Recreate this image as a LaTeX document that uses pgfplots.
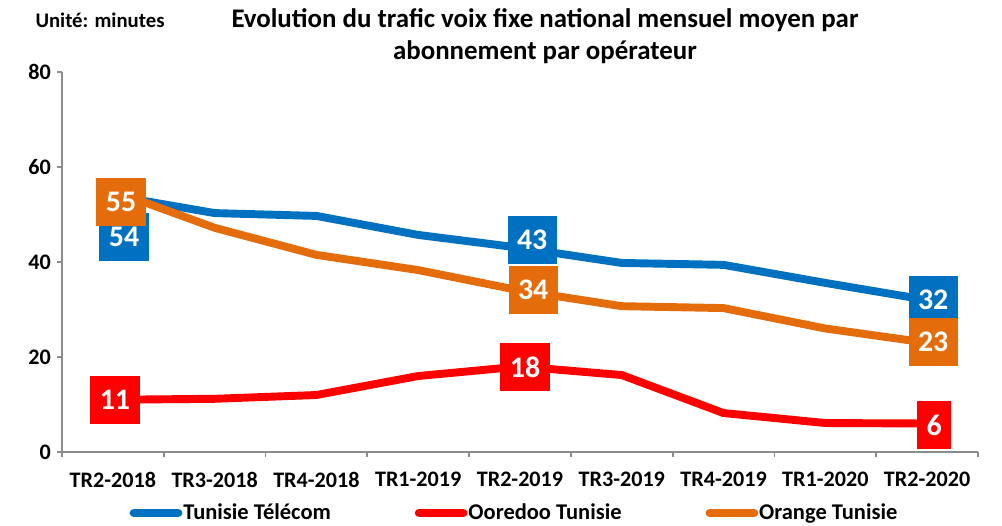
\documentclass[border=0pt]{standalone}
\usepackage{pgfplots}
\pgfplotsset{compat=1.18}
\usepackage{fontspec}
\setmainfont{Carlito}
\definecolor{ttblue}{RGB}{0,112,192}
\definecolor{oored}{RGB}{255,0,0}
\definecolor{orgorange}{RGB}{228,108,10}
\definecolor{axgray}{RGB}{140,140,140}

\tikzset{lbl/.style={fill=#1, text=white, font=\fontsize{17}{17}\selectfont\bfseries,
  minimum height=0.96cm, inner xsep=0.19cm, inner ysep=0pt}}

\begin{document}
\begin{tikzpicture}
\path[use as bounding box] (-1.24cm,-1.46cm) rectangle (18.8cm,9.04cm);

\begin{axis}[
    scale only axis,
    width=18.32cm, height=7.6cm,
    xmin=-0.5, xmax=8.5,
    ymin=0, ymax=80,
    axis x line=bottom, axis y line=left,
    axis line style={-, draw=axgray, line width=1pt},
    tick style={draw=axgray, line width=1pt},
    tick align=outside,
    major tick length=0.1cm,
    xtick={-0.5,0.5,1.5,2.5,3.5,4.5,5.5,6.5,7.5,8.5},
    x tick label as interval,
    xticklabels={TR2-2018,TR3-2018,TR4-2018,TR1-2019,TR2-2019,TR3-2019,TR4-2019,TR1-2020,TR2-2020},
    ytick={0,20,40,60,80},
    /pgf/number format/assume math mode=true,
    ticklabel style={font=\fontsize{12.6}{14}\selectfont\bfseries},
    xticklabel style={yshift=-0.18cm},
    clip=false,
    legend style={draw=none, fill=none, at={(0.4934,-0.1605)}, anchor=center,
      legend columns=3, font=\fontsize{12.8}{13}\selectfont\bfseries,
      /tikz/every even column/.append style={column sep=1.66cm},
      nodes={inner sep=0.5pt}},
    legend image code/.code={\draw[line width=5pt, line cap=round] (0.1cm,0cm) -- (0.98cm,0cm);},
    every axis plot/.append style={line width=4.5pt, mark=none},
]

\addplot[color=ttblue] coordinates {
  (0,54) (1,50.3) (2,49.7) (3,45.7) (4,43) (5,39.8) (6,39.4) (7,35.6) (8,32)
};
\addlegendentry{Tunisie Télécom}

\addplot[color=oored] coordinates {
  (0,11) (1,11.2) (2,12.0) (3,16.0) (4,18) (5,16.2) (6,8.2) (7,6.1) (8,6)
};
\addlegendentry{Ooredoo Tunisie}

\addplot[color=orgorange] coordinates {
  (0,55) (1,47.2) (2,41.5) (3,38.3) (4,34) (5,30.7) (6,30.3) (7,26.0) (8,23)
};
\addlegendentry{Orange Tunisie}

\node[lbl=ttblue] at (axis cs:0.11,45.3) {54};
\node[lbl=orgorange] at (axis cs:0.08,52.6) {55};
\node[lbl=oored] at (axis cs:0.02,11.05) {11};
\node[lbl=ttblue] at (axis cs:4.12,44.6) {43};
\node[lbl=orgorange] at (axis cs:4.13,34.1) {34};
\node[lbl=oored] at (axis cs:4.05,17.9) {18};
\node[lbl=ttblue] at (axis cs:8.06,32.0) {32};
\node[lbl=orgorange] at (axis cs:8.06,23.2) {23};
\node[lbl=oored] at (axis cs:8.07,5.7) {6};
\end{axis}

\node[font=\fontsize{11.8}{13}\selectfont\bfseries] at (0.76cm,8.64cm) {Unité: minutes};
\node[font=\fontsize{15.3}{18}\selectfont\bfseries, align=center] at (9.66cm,8.32cm)
  {Evolution du trafic voix fixe national mensuel moyen par\\abonnement par opérateur};
\end{tikzpicture}
\end{document}
